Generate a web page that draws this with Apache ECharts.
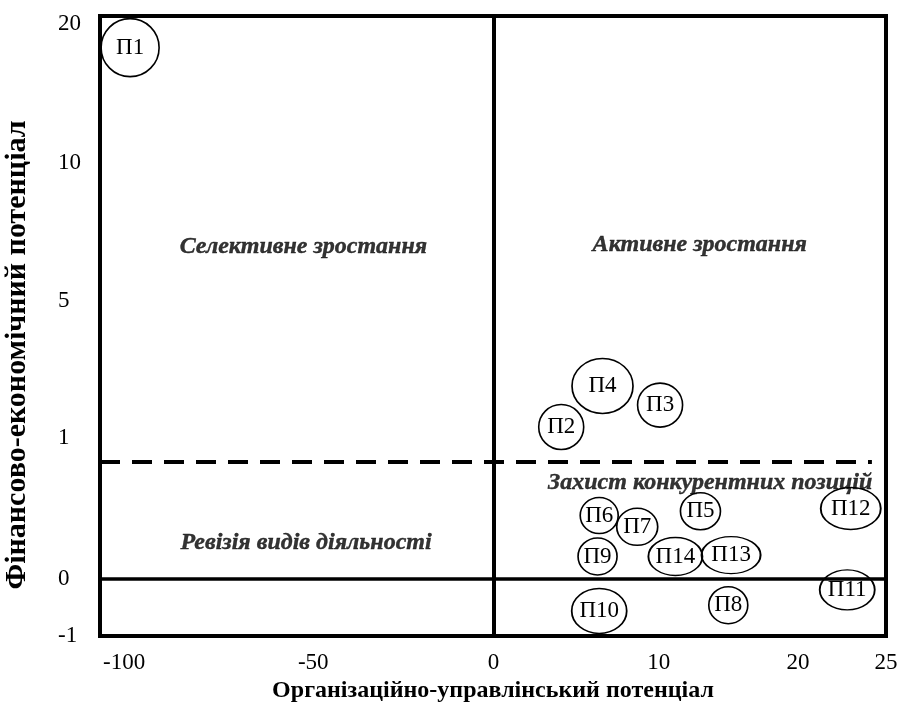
<!DOCTYPE html>
<html><head><meta charset="utf-8">
<script src="https://cdn.jsdelivr.net/npm/echarts@6/dist/echarts.min.js"></script>
<style>html,body{margin:0;padding:0;background:#fff}#c{width:900px;height:707px}</style>
</head><body><div id="c"></div>
<script>
// ---- axis scale (tick values and where each sits along the axis, 0..100) ----
const xTicks = [-100, -50, 0, 10, 20, 25];
const xTickPlace = [3.06, 27.13, 50.06, 71.08, 88.79, 100];
const yTicks = [-1, 0, 1, 5, 10, 20];
const yTickPlace = [0, 9.19, 31.94, 54.03, 76.29, 98.71];

// ---- data ----
const names = ['П1','П2','П3','П4','П5','П6','П7','П8','П9','П10','П11','П12','П13','П14'];
const orgPotential = [-98.4, 4.1, 10.1, 6.6, 13.0, 6.4, 8.7, 15.0, 6.3, 6.4, 22.8, 23.0, 15.2, 11.2];
const finPotential = [18.3, 1.32, 1.96, 2.52, 0.48, 0.45, 0.37, -0.46, 0.16, -0.56, -0.19, 0.50, 0.17, 0.16];
const bubbleW = [58, 45, 45, 61, 40, 38, 41, 39, 39, 55, 55, 60, 59, 54];
const bubbleH = [58, 45, 44, 55, 37, 36, 37, 37, 37, 45, 40, 42, 37, 38];

const zoneNames = ['Селективне зростання', 'Активне зростання', 'Ревізія видів діяльності', 'Захист конкурентних позицій'];
const zoneX = [-52.6, 12.95, -51.9, 13.7];
const zoneY = [6.96, 7.03, 0.255, 0.68];

const dividerY = 0.83;
const dividerEndX = 24.2;

// piecewise-linear scale
function place(v, ticks, places) {
  let i = 0;
  while (i < ticks.length - 2 && v > ticks[i + 1]) i++;
  return places[i] + (v - ticks[i]) / (ticks[i + 1] - ticks[i]) * (places[i + 1] - places[i]);
}
const fx = v => place(v, xTicks, xTickPlace);
const fy = v => place(v, yTicks, yTickPlace);
function tickLabel(p, ticks, places) {
  let best = 0;
  for (let i = 1; i < places.length; i++) if (Math.abs(places[i] - p) < Math.abs(places[best] - p)) best = i;
  return String(ticks[best]);
}

const FONT = 'Liberation Serif';
const chart = echarts.init(document.getElementById('c'), null, {renderer: 'canvas'});

const bubbles = names.map((n, i) => ({
  name: n,
  value: [fx(orgPotential[i]), fy(finPotential[i])],
  symbolSize: [bubbleW[i], bubbleH[i]]
}));
const zones = zoneNames.map((n, i) => ({name: n, value: [fx(zoneX[i]), fy(zoneY[i])]}));

chart.setOption({
  animation: false,
  backgroundColor: '#fff',
  grid: {left: 100, right: 14, top: 16, bottom: 71, containLabel: false, outerBoundsMode: 'none',
    show: true, borderColor: '#000', borderWidth: 4, backgroundColor: 'transparent'},
  xAxis: {
    type: 'value', min: 0, max: 100,
    axisLine: {show: false}, axisTick: {show: false}, splitLine: {show: false},
    axisLabel: {
      customValues: xTickPlace, showMinLabel: true, showMaxLabel: true,
      formatter: v => tickLabel(v, xTicks, xTickPlace),
      margin: 15, fontSize: 23, color: '#000', fontFamily: FONT
    },
    name: 'Організаційно-управлінський потенціал', nameLocation: 'middle', nameGap: 35,
    nameTextStyle: {fontSize: 24, fontWeight: 'bold', color: '#000', fontFamily: FONT}
  },
  yAxis: {
    type: 'value', min: 0, max: 100,
    axisLine: {show: false}, axisTick: {show: false}, splitLine: {show: false},
    axisLabel: {
      customValues: yTickPlace, showMinLabel: true, showMaxLabel: true,
      formatter: v => tickLabel(v, yTicks, yTickPlace),
      margin: 42, align: 'left', fontSize: 23, color: '#000', fontFamily: FONT
    },
    name: 'Фінансово-економічний потенціал', nameLocation: 'middle', nameGap: 68,
    nameTextStyle: {fontSize: 30, fontWeight: 'bold', color: '#000', fontFamily: FONT, padding: [0, 58, 0, 0]}
  },
  series: [
    {
      type: 'line', data: [], silent: true, z: 1,
      markLine: {
        silent: true, symbol: 'none', label: {show: false}, animation: false,
        data: [
          [{coord: [fx(0), 0], lineStyle: {color: '#000', width: 4, type: 'solid'}}, {coord: [fx(0), 100]}],
          [{coord: [0, fy(0)], lineStyle: {color: '#000', width: 3.5, type: 'solid'}}, {coord: [100, fy(0)]}],
          [{coord: [0, fy(dividerY)], lineStyle: {color: '#000', width: 4, type: [20, 12]}}, {coord: [fx(dividerEndX), fy(dividerY)]}]
        ]
      }
    },
    {
      type: 'scatter', data: zones, symbolSize: 0, silent: true, z: 3,
      label: {show: true, position: 'inside', formatter: p => p.name, color: '#000',
        textBorderColor: '#000', textBorderWidth: 0.4,
        fontSize: 24, fontWeight: 'bold', fontStyle: 'italic', fontFamily: FONT},
      emphasis: {disabled: true}
    },
    {
      type: 'scatter', data: bubbles, symbol: 'circle', z: 4,
      itemStyle: {color: 'rgba(255,255,255,0)', borderColor: '#000', borderWidth: 1.6, opacity: 1},
      label: {show: true, position: 'inside', formatter: p => p.name, color: '#000', fontSize: 23, fontFamily: FONT},
      emphasis: {disabled: true}
    }
  ]
});
</script></body></html>
